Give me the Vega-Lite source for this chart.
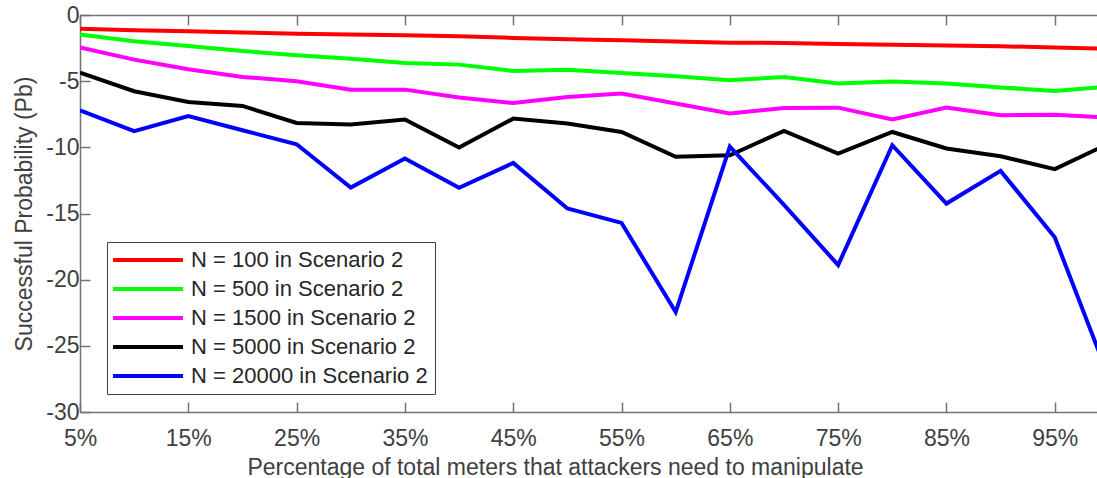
{
  "$schema": "https://vega.github.io/schema/vega-lite/v6.json",
  "autosize": "none",
  "width": 1017,
  "height": 397,
  "padding": {"left": 80, "top": 15, "right": 0, "bottom": 66},
  "background": "white",
  "config": {
    "view": {"stroke": null},
    "font": "Liberation Sans",
    "axis": {
      "domainColor": "#737373",
      "domainWidth": 1.5,
      "tickColor": "#737373",
      "tickWidth": 1.5,
      "labelColor": "#404040",
      "titleColor": "#404040",
      "labelFont": "Liberation Sans",
      "titleFont": "Liberation Sans",
      "labelFontSize": 23,
      "titleFontSize": 23,
      "titleFontWeight": "normal",
      "grid": false
    }
  },
  "datasets": {
    "pb": [
      {"series": "N = 100 in Scenario 2", "pct": 5, "value": -1.03},
      {"series": "N = 100 in Scenario 2", "pct": 10, "value": -1.15},
      {"series": "N = 100 in Scenario 2", "pct": 15, "value": -1.23},
      {"series": "N = 100 in Scenario 2", "pct": 20, "value": -1.33},
      {"series": "N = 100 in Scenario 2", "pct": 25, "value": -1.41},
      {"series": "N = 100 in Scenario 2", "pct": 30, "value": -1.48},
      {"series": "N = 100 in Scenario 2", "pct": 35, "value": -1.53},
      {"series": "N = 100 in Scenario 2", "pct": 40, "value": -1.61},
      {"series": "N = 100 in Scenario 2", "pct": 45, "value": -1.73},
      {"series": "N = 100 in Scenario 2", "pct": 50, "value": -1.83},
      {"series": "N = 100 in Scenario 2", "pct": 55, "value": -1.91},
      {"series": "N = 100 in Scenario 2", "pct": 60, "value": -2.01},
      {"series": "N = 100 in Scenario 2", "pct": 65, "value": -2.10},
      {"series": "N = 100 in Scenario 2", "pct": 70, "value": -2.11},
      {"series": "N = 100 in Scenario 2", "pct": 75, "value": -2.19},
      {"series": "N = 100 in Scenario 2", "pct": 80, "value": -2.24},
      {"series": "N = 100 in Scenario 2", "pct": 85, "value": -2.31},
      {"series": "N = 100 in Scenario 2", "pct": 90, "value": -2.36},
      {"series": "N = 100 in Scenario 2", "pct": 95, "value": -2.46},
      {"series": "N = 100 in Scenario 2", "pct": 100, "value": -2.56},
      {"series": "N = 500 in Scenario 2", "pct": 5, "value": -1.48},
      {"series": "N = 500 in Scenario 2", "pct": 10, "value": -1.99},
      {"series": "N = 500 in Scenario 2", "pct": 15, "value": -2.34},
      {"series": "N = 500 in Scenario 2", "pct": 20, "value": -2.72},
      {"series": "N = 500 in Scenario 2", "pct": 25, "value": -3.04},
      {"series": "N = 500 in Scenario 2", "pct": 30, "value": -3.30},
      {"series": "N = 500 in Scenario 2", "pct": 35, "value": -3.62},
      {"series": "N = 500 in Scenario 2", "pct": 40, "value": -3.75},
      {"series": "N = 500 in Scenario 2", "pct": 45, "value": -4.23},
      {"series": "N = 500 in Scenario 2", "pct": 50, "value": -4.13},
      {"series": "N = 500 in Scenario 2", "pct": 55, "value": -4.38},
      {"series": "N = 500 in Scenario 2", "pct": 60, "value": -4.63},
      {"series": "N = 500 in Scenario 2", "pct": 65, "value": -4.93},
      {"series": "N = 500 in Scenario 2", "pct": 70, "value": -4.68},
      {"series": "N = 500 in Scenario 2", "pct": 75, "value": -5.18},
      {"series": "N = 500 in Scenario 2", "pct": 80, "value": -5.03},
      {"series": "N = 500 in Scenario 2", "pct": 85, "value": -5.18},
      {"series": "N = 500 in Scenario 2", "pct": 90, "value": -5.48},
      {"series": "N = 500 in Scenario 2", "pct": 95, "value": -5.74},
      {"series": "N = 500 in Scenario 2", "pct": 100, "value": -5.41},
      {"series": "N = 1500 in Scenario 2", "pct": 5, "value": -2.46},
      {"series": "N = 1500 in Scenario 2", "pct": 10, "value": -3.37},
      {"series": "N = 1500 in Scenario 2", "pct": 15, "value": -4.10},
      {"series": "N = 1500 in Scenario 2", "pct": 20, "value": -4.68},
      {"series": "N = 1500 in Scenario 2", "pct": 25, "value": -5.01},
      {"series": "N = 1500 in Scenario 2", "pct": 30, "value": -5.64},
      {"series": "N = 1500 in Scenario 2", "pct": 35, "value": -5.64},
      {"series": "N = 1500 in Scenario 2", "pct": 40, "value": -6.24},
      {"series": "N = 1500 in Scenario 2", "pct": 45, "value": -6.65},
      {"series": "N = 1500 in Scenario 2", "pct": 50, "value": -6.19},
      {"series": "N = 1500 in Scenario 2", "pct": 55, "value": -5.94},
      {"series": "N = 1500 in Scenario 2", "pct": 60, "value": -6.69},
      {"series": "N = 1500 in Scenario 2", "pct": 65, "value": -7.45},
      {"series": "N = 1500 in Scenario 2", "pct": 70, "value": -7.02},
      {"series": "N = 1500 in Scenario 2", "pct": 75, "value": -7.00},
      {"series": "N = 1500 in Scenario 2", "pct": 80, "value": -7.90},
      {"series": "N = 1500 in Scenario 2", "pct": 85, "value": -7.00},
      {"series": "N = 1500 in Scenario 2", "pct": 90, "value": -7.58},
      {"series": "N = 1500 in Scenario 2", "pct": 95, "value": -7.53},
      {"series": "N = 1500 in Scenario 2", "pct": 100, "value": -7.75},
      {"series": "N = 5000 in Scenario 2", "pct": 5, "value": -4.35},
      {"series": "N = 5000 in Scenario 2", "pct": 10, "value": -5.76},
      {"series": "N = 5000 in Scenario 2", "pct": 15, "value": -6.57},
      {"series": "N = 5000 in Scenario 2", "pct": 20, "value": -6.87},
      {"series": "N = 5000 in Scenario 2", "pct": 25, "value": -8.16},
      {"series": "N = 5000 in Scenario 2", "pct": 30, "value": -8.28},
      {"series": "N = 5000 in Scenario 2", "pct": 35, "value": -7.90},
      {"series": "N = 5000 in Scenario 2", "pct": 40, "value": -10.02},
      {"series": "N = 5000 in Scenario 2", "pct": 45, "value": -7.83},
      {"series": "N = 5000 in Scenario 2", "pct": 50, "value": -8.20},
      {"series": "N = 5000 in Scenario 2", "pct": 55, "value": -8.84},
      {"series": "N = 5000 in Scenario 2", "pct": 60, "value": -10.72},
      {"series": "N = 5000 in Scenario 2", "pct": 65, "value": -10.60},
      {"series": "N = 5000 in Scenario 2", "pct": 70, "value": -8.76},
      {"series": "N = 5000 in Scenario 2", "pct": 75, "value": -10.47},
      {"series": "N = 5000 in Scenario 2", "pct": 80, "value": -8.84},
      {"series": "N = 5000 in Scenario 2", "pct": 85, "value": -10.09},
      {"series": "N = 5000 in Scenario 2", "pct": 90, "value": -10.67},
      {"series": "N = 5000 in Scenario 2", "pct": 95, "value": -11.65},
      {"series": "N = 5000 in Scenario 2", "pct": 100, "value": -9.71},
      {"series": "N = 20000 in Scenario 2", "pct": 5, "value": -7.20},
      {"series": "N = 20000 in Scenario 2", "pct": 10, "value": -8.78},
      {"series": "N = 20000 in Scenario 2", "pct": 15, "value": -7.63},
      {"series": "N = 20000 in Scenario 2", "pct": 20, "value": -8.71},
      {"series": "N = 20000 in Scenario 2", "pct": 25, "value": -9.77},
      {"series": "N = 20000 in Scenario 2", "pct": 30, "value": -13.04},
      {"series": "N = 20000 in Scenario 2", "pct": 35, "value": -10.85},
      {"series": "N = 20000 in Scenario 2", "pct": 40, "value": -13.06},
      {"series": "N = 20000 in Scenario 2", "pct": 45, "value": -11.18},
      {"series": "N = 20000 in Scenario 2", "pct": 50, "value": -14.62},
      {"series": "N = 20000 in Scenario 2", "pct": 55, "value": -15.71},
      {"series": "N = 20000 in Scenario 2", "pct": 60, "value": -22.45},
      {"series": "N = 20000 in Scenario 2", "pct": 65, "value": -9.95},
      {"series": "N = 20000 in Scenario 2", "pct": 70, "value": -14.34},
      {"series": "N = 20000 in Scenario 2", "pct": 75, "value": -18.90},
      {"series": "N = 20000 in Scenario 2", "pct": 80, "value": -9.84},
      {"series": "N = 20000 in Scenario 2", "pct": 85, "value": -14.25},
      {"series": "N = 20000 in Scenario 2", "pct": 90, "value": -11.78},
      {"series": "N = 20000 in Scenario 2", "pct": 95, "value": -16.80},
      {"series": "N = 20000 in Scenario 2", "pct": 100, "value": -27.40}
    ]
  },
  "data": {"name": "pb"},
  "resolve": {"axis": {"x": "independent"}},
  "layer": [
    {
      "mark": {"type": "line", "clip": true, "strokeWidth": 4},
      "encoding": {
        "x": {
          "field": "pct", "type": "quantitative",
          "scale": {"domain": [5, 98.9], "nice": false, "zero": false},
          "axis": {
            "orient": "bottom",
            "values": [5, 15, 25, 35, 45, 55, 65, 75, 85, 95],
            "labelExpr": "datum.value + '%'",
            "tickSize": -10,
            "labelPadding": 25,
            "labelFlush": false,
            "labelOverlap": false,
            "title": "Percentage of total meters that attackers need to manipulate",
            "titleBaseline": "alphabetic",
            "titleY": 62,
            "titleX": 475
          }
        },
        "y": {
          "field": "value", "type": "quantitative",
          "scale": {"domain": [-30, 0], "nice": false},
          "axis": {
            "values": [-30, -25, -20, -15, -10, -5, 0],
            "labelExpr": "datum.value + ''",
            "tickSize": -10,
            "labelPadding": 11,
            "labelFlush": false,
            "labelOverlap": false,
            "title": "Successful Probability (Pb)",
            "titlePadding": 9
          }
        },
        "color": {
          "field": "series", "type": "nominal",
          "scale": {
            "domain": ["N = 100 in Scenario 2", "N = 500 in Scenario 2", "N = 1500 in Scenario 2", "N = 5000 in Scenario 2", "N = 20000 in Scenario 2"],
            "range": ["#ff0000", "#00ff00", "#ff00ff", "#000000", "#0000ff"]
          },
          "legend": {
            "title": null,
            "orient": "none",
            "legendX": 27,
            "legendY": 227,
            "direction": "vertical",
            "symbolType": "M-2.4,0H11.6",
            "symbolSize": 100,
            "symbolStrokeWidth": 4,
            "labelOffset": 55,
            "labelFont": "Liberation Sans",
            "labelFontSize": 22,
            "labelColor": "#262626",
            "labelLimit": 400,
            "strokeColor": "#404040",
            "fillColor": "white",
            "padding": 7,
            "rowPadding": 7
          }
        }
      }
    },
    {
      "mark": {"type": "line", "clip": true, "opacity": 0},
      "encoding": {
        "x": {
          "field": "pct", "type": "quantitative",
          "scale": {"domain": [5, 98.9], "nice": false, "zero": false},
          "axis": {
            "orient": "top",
            "values": [5, 15, 25, 35, 45, 55, 65, 75, 85, 95],
            "labels": false,
            "tickSize": -10,
            "title": null
          }
        },
        "y": {"field": "value", "type": "quantitative"}
      }
    }
  ]
}
